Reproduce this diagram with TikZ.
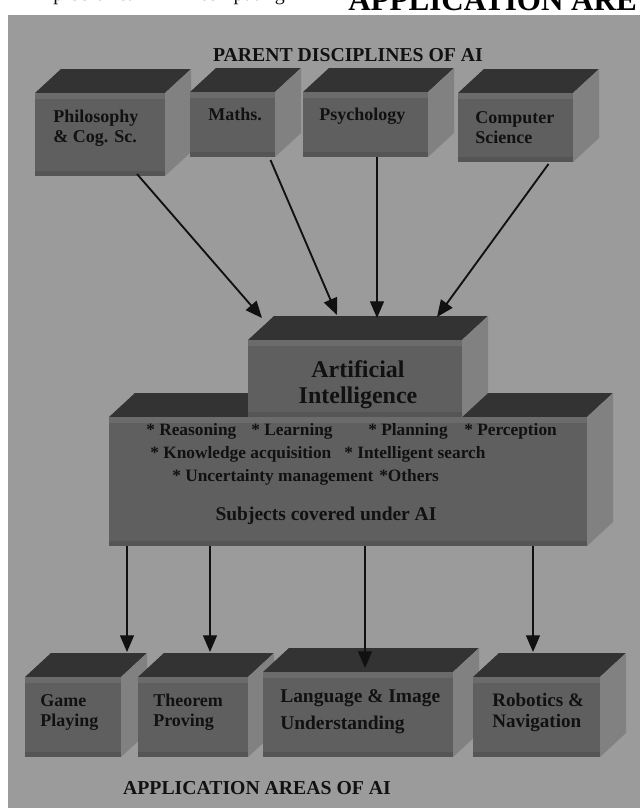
\documentclass[tikz,border=0pt]{standalone}
\usepackage{fontspec}
\setmainfont{Liberation Serif}
\usetikzlibrary{arrows.meta,calc,fit}

\definecolor{panelgray}{HTML}{9B9B9B}
\definecolor{frontgray}{HTML}{5F5F5F}
\definecolor{bandgray}{HTML}{6B6B6B}
\definecolor{lowgray}{HTML}{555555}
\definecolor{topgray}{HTML}{333333}
\definecolor{sidegray}{HTML}{818181}
\definecolor{inkblack}{HTML}{111111}

% depth of the 3-d boxes
\newcommand{\bx}{26}
\newcommand{\by}{-24}
% top face, side face and edge bands of a box node
\newcommand{\boxfaces}[1]{%
  \fill[topgray] (#1.north west) -- ++(\bx,\by) -- ($(#1.north east)+(\bx,\by)$) -- (#1.north east) -- cycle;
  \fill[sidegray] (#1.north east) -- ++(\bx,\by) -- ($(#1.south east)+(\bx,\by)$) -- (#1.south east) -- cycle;
  \fill[bandgray] (#1.north west) rectangle ($(#1.north east)+(0,6)$);
  \fill[lowgray] (#1.south west) rectangle ($(#1.south east)+(0,-5)$);
}

\begin{document}
\begin{tikzpicture}[x=0.75pt,y=-0.75pt]
    % `front' is the front face of a box, `boxtext' its label
    % (two-line labels are placed at the baseline of their last line).
    % `arrow' is used for the thick connectors, `thinarrow' for the thin ones.
    \tikzstyle{front} = [fill=frontgray,inner sep=0pt,outer sep=0pt]
    \tikzstyle{boxtext} = [text=inkblack,inner sep=0pt,anchor=base west,align=left,
                           font=\bfseries\fontsize{13.5}{15}\selectfont]
    \tikzstyle{item} = [text=inkblack,inner sep=0pt,anchor=base west,
                        font=\bfseries\fontsize{13}{15}\selectfont]
    \tikzstyle{heading} = [text=inkblack,inner sep=0pt,anchor=base,
                           font=\bfseries\fontsize{14.8}{17}\selectfont]
    \tikzstyle{arrow} = [draw=inkblack,line width=1.4pt,-{Triangle[length=12.5pt,width=10.5pt]}]
    \tikzstyle{thinarrow} = [arrow,line width=0.9pt]
    %
    \useasboundingbox (0,0) rectangle (640,808);
    \clip (0,0) rectangle (640,808);
    \fill[white] (0,0) rectangle (640,808);
    \node[anchor=base west,inner sep=0pt,text=inkblack,font=\fontsize{15}{17}\selectfont] (frag1) at (53,0) {problems.};
    \node[anchor=base west,inner sep=0pt,text=inkblack,font=\fontsize{15}{17}\selectfont] (frag2) at (199,0) {computing};
    \node[anchor=base west,inner sep=0pt,text=black,font=\bfseries\fontsize{23.3}{26}\selectfont] (frag3) at (348,10) {APPLICATION ARE};
    \fill[panelgray] (8,15) rectangle (640,808);
    %
    \node[heading] (parent) at (348,61) {PARENT DISCIPLINES OF AI};
    % Parent disciplines.
    \node[front, fit={(35,93) (165,176)}] (phil) {}; \boxfaces{phil}
    \node[front, fit={(190,92) (275,157)}] (maths) {}; \boxfaces{maths}
    \node[front, fit={(303,92) (428,157)}] (psych) {}; \boxfaces{psych}
    \node[front, fit={(458,93) (573,162)}] (cs) {}; \boxfaces{cs}
    \node[boxtext] (philtext) at (53,142) {Philosophy\\\& Cog. Sc.};
    \node[boxtext] (mathstext) at (208,120) {Maths.};
    \node[boxtext] (psychtext) at (319,120) {Psychology};
    \node[boxtext] (cstext) at (475,143) {Computer\\Science};
    %
    % Subjects box with the AI box standing on it.
    \node[front, fit={(109,417) (587,546)}] (subj) {}; \boxfaces{subj}
    \node[front, fit={(248,340) (462,417)}] (ai) {}; \boxfaces{ai}
    \node[text=inkblack,inner sep=0pt,anchor=base,align=center,
          font=\bfseries\fontsize{18}{19.5}\selectfont] (aitext) at (358,403) {Artificial\\Intelligence};
    \foreach \tx/\ty/\txt [count=\i] in {146/435/{* Reasoning}, 251/435/{* Learning},
        368/435/{* Planning}, 464/435/{* Perception},
        150/458/{* Knowledge acquisition}, 344/458/{* Intelligent search},
        172/481/{* Uncertainty management}, 379/481/{*Others}}
      \node[item] (topic\i) at (\tx,\ty) {\txt};
    \node[heading,font=\bfseries\fontsize{14.6}{17}\selectfont] (subjtext) at (326,520) {Subjects covered under AI};
    %
    % Application areas.
    \node[front, fit={(25,677) (121,757)}] (game) {}; \boxfaces{game}
    \node[front, fit={(138,677) (248,757)}] (theo) {}; \boxfaces{theo}
    \node[front, fit={(263,672) (453,757)}] (lang) {}; \boxfaces{lang}
    \node[front, fit={(473,677) (600,757)}] (robo) {}; \boxfaces{robo}
    \node[boxtext] (gametext) at (40,726) {Game\\Playing};
    \node[boxtext] (theotext) at (153,726) {Theorem\\Proving};
    \node[boxtext,font=\bfseries\fontsize{14.6}{20}\selectfont] (langtext) at (280,729) {Language \& Image\\Understanding};
    \node[boxtext,font=\bfseries\fontsize{14.3}{15.5}\selectfont] (robotext) at (492,727) {Robotics \&\\Navigation};
    \node[heading] (appl) at (257,794) {APPLICATION AREAS OF AI};
    %
    % Connectors.
    \coordinate (philtip) at (262,318);
    \coordinate (mathstip) at (337,315);
    \coordinate (psychtip) at (377,318);
    \coordinate (cstip) at (437,317);
    \draw[arrow] ($(phil.south)+(37,-2)$) -- (philtip);
    \draw[arrow] ($(maths.south)+(38,3)$) -- (mathstip);
    \draw[thinarrow] (psych.south -| psychtip) -- (psychtip);
    \draw[arrow] ($(cs.south)+(33,2)$) -- (cstip);
    \coordinate (gametip) at (127,652);
    \coordinate (theotip) at (210,652);
    \coordinate (langtip) at (365,668);
    \coordinate (robotip) at (533,652);
    \foreach \t in {gametip,theotip,langtip,robotip}
      \draw[thinarrow] (subj.south -| \t) -- (\t);
\end{tikzpicture}
\end{document}
